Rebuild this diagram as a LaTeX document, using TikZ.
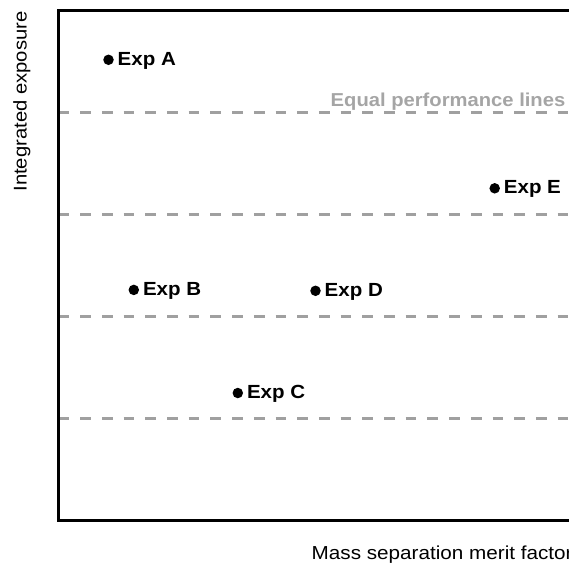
\documentclass[tikz,border=0pt]{standalone}
\usepackage{fontspec}
\usetikzlibrary{calc}
\setmainfont{Liberation Sans}
\newfontfamily\boldwide[FakeStretch=1.08]{Liberation Sans}
\newfontfamily\regwide[FakeStretch=1.1]{Liberation Sans}
\definecolor{linegray}{RGB}{160,160,160}
\definecolor{textgray}{RGB}{165,165,165}
\begin{document}
\begin{tikzpicture}[x=1pt,y=-1pt,
  dot/.style={circle,fill=black,inner sep=0pt,minimum size=10.5pt},
  explabel/.style={anchor=base west,inner sep=0pt,font=\boldwide\bfseries\fontsize{19}{22}\selectfont},
  perflabel/.style={anchor=base east,inner sep=0pt,text=textgray,font=\boldwide\bfseries\fontsize{18.7}{22}\selectfont},
  xlabelstyle/.style={inner sep=0pt,font=\regwide\fontsize{18.8}{22}\selectfont},
  ylabelstyle/.style={inner sep=0pt,font=\regwide\fontsize{18.4}{22}\selectfont},
  perfline/.style={draw=linegray,line width=2.7pt,dash pattern=on 10.7pt off 11pt},
  axisline/.style={line width=3pt,line join=miter}]
\useasboundingbox (0,0) rectangle (569,566);
\clip (0,0) rectangle (569,566);
% equal performance lines
\foreach \yy [count=\i] in {112.8,214.5,316.5,418.5}{
  \coordinate (ls\i) at (58.5,\yy);
  \coordinate (le\i) at (600,\yy);
  \draw[perfline] (ls\i) -- (le\i);
}
% axes box
\coordinate (tr) at (600,10);
\coordinate (tl) at (58.3,10);
\coordinate (bl) at (58.3,520);
\coordinate (br) at (600,520);
\draw[axisline] (tr) -- (tl) -- (bl) -- (br);
% experiments
\node[dot] (dA) at (108.5,59.8) {};
\node[dot] (dB) at (133.8,289.9) {};
\node[dot] (dC) at (237.8,393) {};
\node[dot] (dD) at (315.5,290.8) {};
\node[dot] (dE) at (494.7,188.3) {};
\node[explabel] (lA) at ($(dA)+(9.0,5.5)$) {Exp A};
\node[explabel] (lB) at ($(dB)+(9.0,5.5)$) {Exp B};
\node[explabel] (lC) at ($(dC)+(9.0,5.5)$) {Exp C};
\node[explabel] (lD) at ($(dD)+(9.0,5.5)$) {Exp D};
\node[explabel] (lE) at ($(dE)+(9.0,5.5)$) {Exp E};
\node[perflabel] (perf) at (565.5,106) {Equal performance lines};
% axis labels
\node[xlabelstyle,anchor=base west] (xlab) at (311.5,559) {Mass separation merit factor};
\node[ylabelstyle,anchor=base,rotate=90] (ylab) at (26.5,101.5) {Integrated exposure};
\end{tikzpicture}
\end{document}
